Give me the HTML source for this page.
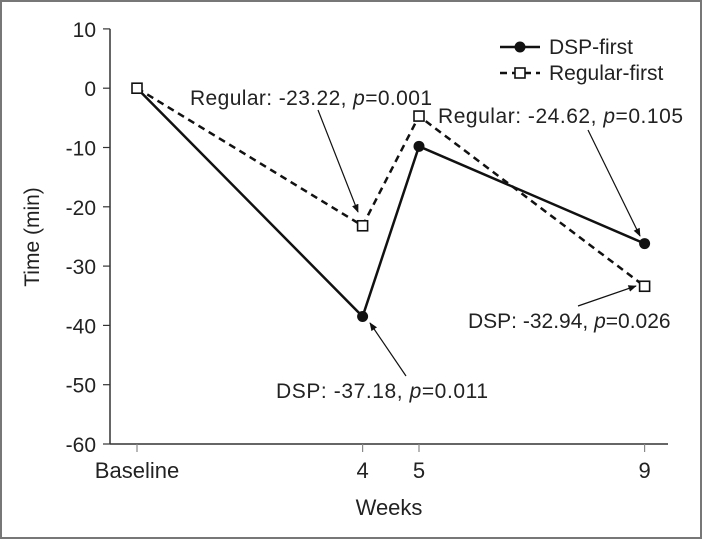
<!DOCTYPE html>
<html><head><meta charset="utf-8"><style>
body{margin:0;background:#fff}
svg{display:block;font-family:"Liberation Sans",sans-serif}
</style></head><body>
<svg width="702" height="540">
<rect x="1" y="1" width="700" height="537" fill="#fff" stroke="#777" stroke-width="2"/>
<g id="axes"></g>
<g id="marks"></g>
<g id="ann" font-size="21" fill="#222"></g>
</svg>
<script>
const weeks=[0,4,5,9];
const xLabels=["Baseline","4","5","9"];
const yTicks=[10,0,-10,-20,-30,-40,-50,-60];
const dspFirst=[0,-38.5,-9.8,-26.2];
const regularFirst=[0,-23.2,-4.7,-33.4];
const NS="http://www.w3.org/2000/svg";
const X=w=>137+w*56.4;
const Y=v=>444-(v+60)*5.93;
function mk(t,a,p){const e=document.createElementNS(NS,t);for(const k in a)e.setAttribute(k,a[k]);p.appendChild(e);return e;}
const ax=document.getElementById('axes');
const yl=mk('line',{x1:110,y1:Y(10),x2:110,y2:444,stroke:'#333','stroke-width':1.5},ax);


const xl=mk('line',{x1:110,y1:444,x2:668,y2:444,stroke:'#333','stroke-width':1.5},ax);


yTicks.forEach(v=>{
 mk('line',{x1:103,y1:Y(v),x2:110,y2:Y(v),stroke:'#333','stroke-width':1.2},ax);
 const t=mk('text',{x:96,y:Y(v)+8,'text-anchor':'end','font-size':21,fill:'#222'},ax);t.textContent=v;
 
 
});
weeks.forEach((w,i)=>{
 mk('line',{x1:X(w),y1:444,x2:X(w),y2:452,stroke:'#888','stroke-width':1.2},ax);
 const t=mk('text',{x:X(w),y:478,'text-anchor':'middle','font-size':22,fill:'#222'},ax);t.textContent=xLabels[i];
 
 
});
let t=mk('text',{x:389,y:515,'text-anchor':'middle','font-size':22,fill:'#222'},ax);t.textContent='Weeks';


t=mk('text',{x:0,y:0,'text-anchor':'middle','font-size':21,fill:'#222',transform:'translate(39,237) rotate(-90)'},ax);t.textContent='Time (min)';


const m=document.getElementById('marks');
const pR=mk('polyline',{points:weeks.map((w,i)=>X(w)+','+Y(regularFirst[i])).join(' '),fill:'none',stroke:'#111','stroke-width':2.5,'stroke-dasharray':'7,5'},m);


const pD=mk('polyline',{points:weeks.map((w,i)=>X(w)+','+Y(dspFirst[i])).join(' '),fill:'none',stroke:'#111','stroke-width':2.5},m);


weeks.forEach((w,i)=>{
 const c=mk('circle',{cx:X(w),cy:Y(dspFirst[i]),r:5.5,fill:'#111'},m);
 
 
 const r=mk('rect',{x:X(w)-5,y:Y(regularFirst[i])-5,width:10,height:10,fill:'#fff',stroke:'#111','stroke-width':1.6},m);
 
 
});
const lg=mk('g',{},m);


mk('line',{x1:500,y1:47,x2:540,y2:47,stroke:'#111','stroke-width':2.5},lg);
mk('circle',{cx:520,cy:47,r:5.5,fill:'#111'},lg);
t=mk('text',{x:549,y:54,'font-size':21,fill:'#222'},lg);t.textContent='DSP-first';
mk('line',{x1:500,y1:73,x2:540,y2:73,stroke:'#111','stroke-width':2.5,'stroke-dasharray':'7,5'},lg);
mk('rect',{x:515,y:68,width:10,height:10,fill:'#fff',stroke:'#111','stroke-width':1.6},lg);
t=mk('text',{x:549,y:80,'font-size':21,fill:'#222'},lg);t.textContent='Regular-first';
</script>
<script>
(function(){
const a=document.getElementById('ann');
a.innerHTML=`
<defs><marker id="ah" viewBox="0 0 10 10" refX="9" refY="5" markerWidth="7" markerHeight="7" orient="auto"><path d="M0,1 L10,5 L0,9 z" fill="#111"/></marker></defs>
<text x="190" y="105" textLength="242">Regular: -23.22, <tspan font-style="italic">p</tspan>=0.001</text>
<line x1="318" y1="110" x2="358" y2="212" stroke="#111" stroke-width="1.2" marker-end="url(#ah)"/>
<text x="438" y="123" textLength="245">Regular: -24.62, <tspan font-style="italic">p</tspan>=0.105</text>
<line x1="588" y1="130" x2="640" y2="236" stroke="#111" stroke-width="1.2" marker-end="url(#ah)"/>
<text x="276" y="398" textLength="212">DSP: -37.18, <tspan font-style="italic">p</tspan>=0.011</text>
<line x1="406" y1="376" x2="370" y2="323" stroke="#111" stroke-width="1.2" marker-end="url(#ah)"/>
<text x="468" y="328">DSP: -32.94, <tspan font-style="italic">p</tspan>=0.026</text>
<line x1="578" y1="306" x2="636" y2="286" stroke="#111" stroke-width="1.2" marker-end="url(#ah)"/>`;
})();
</script>
</body></html>
